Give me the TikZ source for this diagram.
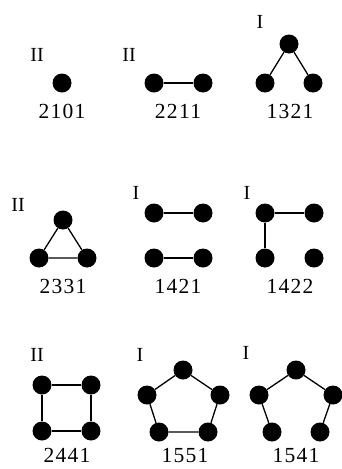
\documentclass[tikz,border=0pt]{standalone}
\usepackage{fontspec}
\setmainfont{Liberation Serif}
\newfontfamily\codefont[LetterSpace=6]{Liberation Serif}
\begin{document}
\begin{tikzpicture}[x=1pt,y=-1pt,
  vtx/.style={circle,fill=black,inner sep=0pt,minimum size=19pt},
  edge/.style={line width=1.3pt},
  code/.style={font=\codefont\fontsize{21.5}{21.5}\selectfont,anchor=base,inner sep=0pt},
  kind/.style={font=\fontsize{20}{20}\selectfont,inner sep=0pt}]
\useasboundingbox (0,0) rectangle (341,469);

% ---- row 1 ----
\node[kind] (k1) at (37,55) {II};
\node[vtx] (a1) at (62,83) {};
\node[code] (c1) at (62,118) {2101};

\node[kind] (k2) at (129,55) {II};
\node[vtx] (b1) at (154,83) {};
\node[vtx] (b2) at (203,83) {};
\draw[edge] (b1) -- (b2);
\node[code] (c2) at (178,118) {2211};

\node[kind] (k3) at (260,22) {I};
\node[vtx] (d1) at (289,44) {};
\node[vtx] (d2) at (265,83) {};
\node[vtx] (d3) at (313,83) {};
\draw[edge] (d2) -- (d1) -- (d3);
\node[code] (c3) at (290,118) {1321};

% ---- row 2 ----
\node[kind] (k4) at (18,205) {II};
\node[vtx] (e1) at (63,220) {};
\node[vtx] (e2) at (39,258) {};
\node[vtx] (e3) at (87,258) {};
\draw[edge] (e1) -- (e2) -- (e3) -- (e1);
\node[code] (c4) at (63,293) {2331};

\node[kind] (k5) at (136,193) {I};
\node[vtx] (f1) at (154,213) {};
\node[vtx] (f2) at (203,213) {};
\node[vtx] (f3) at (154,258) {};
\node[vtx] (f4) at (203,258) {};
\draw[edge] (f1) -- (f2);
\draw[edge] (f3) -- (f4);
\node[code] (c5) at (178,293) {1421};

\node[kind] (k6) at (247,193) {I};
\node[vtx] (g1) at (265,213) {};
\node[vtx] (g2) at (314,213) {};
\node[vtx] (g3) at (265,258) {};
\node[vtx] (g4) at (314,258) {};
\draw[edge] (g3) -- (g1) -- (g2);
\node[code] (c6) at (290,293) {1422};

% ---- row 3 ----
\node[kind] (k7) at (37,355) {II};
\node[vtx] (h1) at (42,385) {};
\node[vtx] (h2) at (91,385) {};
\node[vtx] (h3) at (42,431) {};
\node[vtx] (h4) at (91,431) {};
\draw[edge] (h1) -- (h2) -- (h4) -- (h3) -- (h1);
\node[code] (c7) at (67,462) {2441};

\node[kind] (k8) at (140,355) {I};
\node[vtx] (p1) at (183,370) {};
\node[vtx] (p2) at (147,395) {};
\node[vtx] (p3) at (220,395) {};
\node[vtx] (p4) at (159,432) {};
\node[vtx] (p5) at (208,432) {};
\draw[edge] (p1) -- (p3) -- (p5) -- (p4) -- (p2) -- (p1);
\node[code] (c8) at (185,462) {1551};

\node[kind] (k9) at (246,353) {I};
\node[vtx] (q1) at (296,370) {};
\node[vtx] (q2) at (259,395) {};
\node[vtx] (q3) at (333,395) {};
\node[vtx] (q4) at (272,432) {};
\node[vtx] (q5) at (320,432) {};
\draw[edge] (q4) -- (q2) -- (q1) -- (q3) -- (q5);
\node[code] (c9) at (296,462) {1541};
\end{tikzpicture}
\end{document}
